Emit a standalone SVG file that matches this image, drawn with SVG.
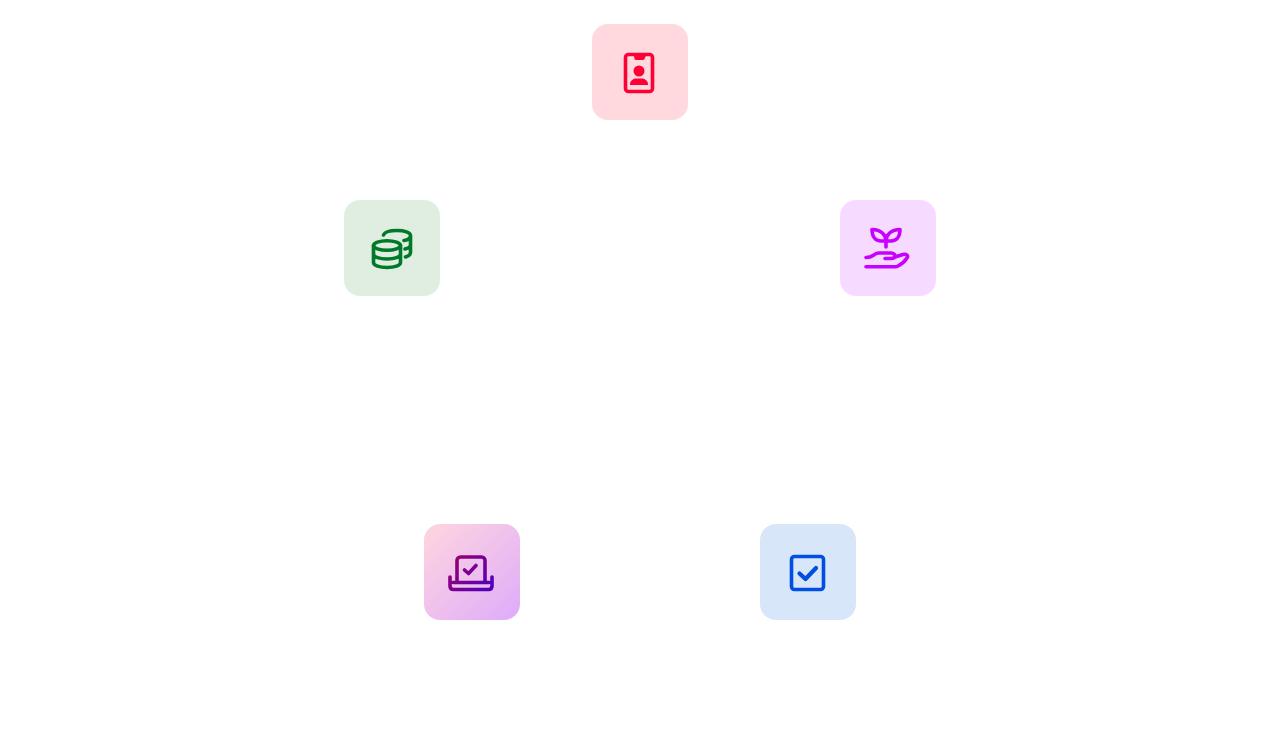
<svg xmlns="http://www.w3.org/2000/svg" width="1280" height="740" viewBox="0 0 1280 740">
<style>
.i{fill:none;stroke-width:3.6;stroke-linecap:round;stroke-linejoin:round}
</style>
<defs>
<linearGradient id="bg" x1="0" y1="0" x2="1" y2="1"><stop offset="0" stop-color="#ffd6df"/><stop offset="1" stop-color="#deabfa"/></linearGradient>
<linearGradient id="fg" gradientUnits="userSpaceOnUse" x1="450" y1="556" x2="492" y2="592"><stop offset="0" stop-color="#a0006a"/><stop offset="1" stop-color="#4c00c0"/></linearGradient>
</defs>
<rect width="1280" height="740" fill="#fff"/>
<g id="connectors"></g>
<g id="node-badge">
<rect x="592" y="24" width="96" height="96" rx="16" fill="#ffd9de"/>
<rect x="625.500" y="54.500" width="27" height="37" rx="3" class="i" stroke="#ff0035"/>
<path d="M634 55.500h12l-1.500 3.500a2 2 0 0 1-1.800 1h-6.400a2 2 0 0 1-1.800-1z" fill="#ff0035"/>
<circle cx="639" cy="71" r="5.500" fill="#ff0035"/>
<path d="M630 85v-.5c0-3.500 3-6 6-6h6c3 0 6 2.500 6 6v.5z" fill="#ff0035"/>
</g>
<g id="node-coins" class="i" stroke="#007a28">
<rect x="344" y="200" width="96" height="96" rx="16" fill="#dfeee0" stroke="none"/>
<ellipse cx="387" cy="245.500" rx="13.500" ry="4.800"/>
<path d="M373.500 245.500v17c0 3 6 5 13.500 5s13.500-2 13.500-5v-17M373.500 254c0 3 6 5 13.500 5s13.500-2 13.500-5"/>
<path d="M383.500 235c1-2.800 6-4.500 13.500-4.500s13.500 2 13.500 5v17c0 2-2 3.500-5 4.500M404 240.500c3.500-.5 6.500-2.200 6.500-5M405 249c3-.7 5.500-2 5.500-4"/>
</g>
<g id="node-plant" class="i" stroke="#c800ff">
<rect x="840" y="200" width="96" height="96" rx="16" fill="#f6daff" stroke="none"/>
<path d="M886 247v-6M886 241c0-6-5-11.500-14-11.500 0 7 3.500 11.500 9 11.500zM886 241c0-6 5-11.500 14-11.500 0 7-3.500 11.500-9 11.500z"/>
<path d="M866 257.500c3 0 5-.5 7-2 2-1.500 3.500-2.500 5.500-2.500h12.500c3 0 4.500 2 4 3.500-.5 1.500-2 2-4 2h-6M895 257l8-2.500c3.500-1 5.500 1.500 4 3.500-2 3-6 6.500-9 8-1 .6-2 .8-3 .8h-29"/>
</g>
<g id="node-laptop" class="i" stroke="url(#fg)">
<rect x="424" y="524" width="96" height="96" rx="16" fill="url(#bg)" stroke="none"/>
<path d="M457 581v-20.500c0-2 1.500-3.500 3.500-3.500h21c2 0 3.500 1.500 3.500 3.500V581"/>
<path d="M450 577v9c0 2.500 1.500 3.500 3.500 3.500h35c2 0 3.500-1 3.500-3.500v-9M453 582.500h36"/>
<path d="M464.500 570l4 3.500 7.500-8"/>
</g>
<g id="node-check" class="i" stroke="#004fe0">
<rect x="760" y="524" width="96" height="96" rx="16" fill="#d8e6f9" stroke="none"/>
<rect x="791.500" y="556.500" width="32" height="33" rx="3"/>
<path d="M799.500 573.500l6 5.500 10.500-11" stroke-width="4.200"/>
</g>
</svg>
